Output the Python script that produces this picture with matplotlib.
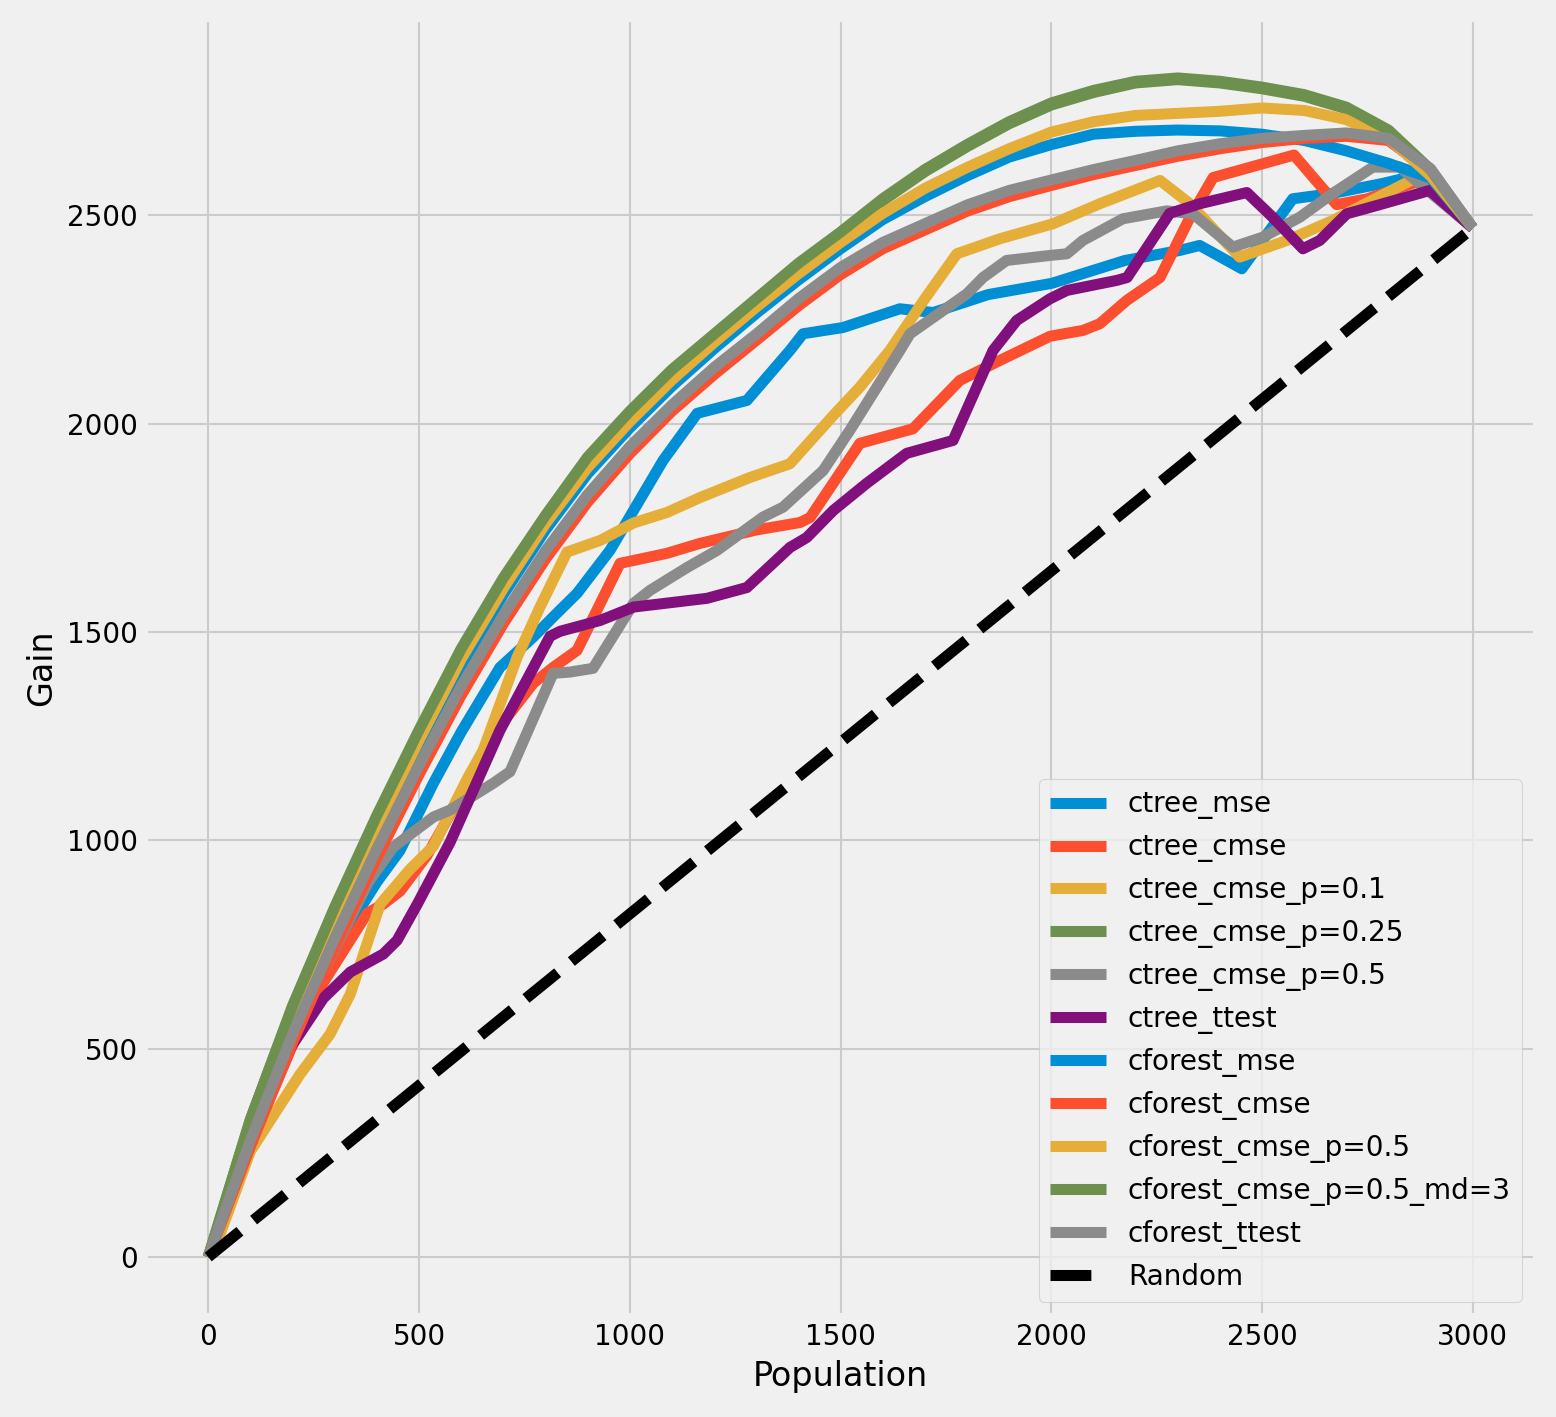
import matplotlib
matplotlib.use("Agg")
import matplotlib.pyplot as plt

plt.style.use("fivethirtyeight")
plt.rcParams['font.family'] = ['DejaVu Sans']
plt.rcParams['font.size'] = 13.4
plt.rcParams['axes.labelsize'] = 16.0

# ---------------- data ----------------
grid_x = [0, 100, 200, 300, 400, 500, 600, 700, 800, 900, 1000, 1100, 1200, 1300, 1400, 1500,
          1600, 1700, 1800, 1900, 2000, 2100, 2200, 2300, 2400, 2500, 2600, 2700, 2800, 2900, 3000]

# ctree models (step-like)
ctree_mse_x = [0, 100, 200, 300, 400, 455, 534, 600, 692, 771, 818, 875, 953, 1079, 1160, 1278, 1380,
               1411, 1506, 1641, 1720, 1850, 2001, 2175, 2305, 2352, 2452, 2573, 2668, 2787, 2866, 3000]
ctree_mse_y = [0, 280, 530, 740, 900, 976, 1137, 1260, 1415, 1488, 1536, 1593, 1696, 1912, 2025, 2056, 2176,
               2216, 2231, 2276, 2267, 2310, 2337, 2392, 2416, 2428, 2372, 2540, 2553, 2577, 2596, 2470]

ctree_cmse_x = [0, 100, 242, 377, 415, 455, 519, 600, 692, 771, 818, 875, 977, 1088, 1167, 1300, 1404, 1428,
                1546, 1672, 1783, 1878, 1997, 2075, 2115, 2179, 2258, 2329, 2384, 2576, 2677, 2750, 2880, 3000]
ctree_cmse_y = [0, 270, 609, 825, 847, 878, 964, 1110, 1274, 1377, 1415, 1456, 1665, 1689, 1713, 1745, 1763, 1775,
                1953, 1988, 2104, 2152, 2210, 2224, 2240, 2296, 2351, 2495, 2591, 2645, 2526, 2540, 2585, 2470]

ctree_cmse_p01_x = [0, 30, 100, 218, 289, 337, 408, 479, 534, 614, 652, 733, 787, 851, 930, 1009, 1088, 1167,
                    1285, 1380, 1483, 1546, 1617, 1700, 1776, 1878, 2004, 2115, 2258, 2329, 2447, 2559, 2668,
                    2867, 3000]
ctree_cmse_p01_y = [0, 60, 254, 439, 535, 631, 847, 931, 986, 1147, 1216, 1440, 1560, 1692, 1720, 1762, 1787, 1823,
                    1871, 1904, 2020, 2088, 2176, 2300, 2408, 2444, 2480, 2528, 2584, 2528, 2400, 2440, 2488,
                    2591, 2470]

ctree_cmse_p025_y = [0, 330, 600, 835, 1055, 1260, 1455, 1625, 1775, 1915, 2025, 2125, 2210, 2295, 2380, 2455,
                     2535, 2605, 2665, 2720, 2765, 2795, 2818, 2826, 2818, 2804, 2786, 2756, 2700, 2605, 2470]

ctree_cmse_p05_x = [0, 100, 200, 300, 380, 439, 534, 574, 676, 716, 818, 858, 913, 1009, 1048, 1136, 1207, 1316,
                    1364, 1459, 1522, 1641, 1665, 1800, 1838, 1894, 1997, 2037, 2075, 2170, 2274, 2336, 2431,
                    2502, 2590, 2668, 2763, 2827, 3000]
ctree_cmse_p05_y = [0, 290, 530, 740, 900, 984, 1056, 1073, 1137, 1165, 1401, 1404, 1413, 1569, 1600, 1655, 1696,
                    1776, 1800, 1888, 1984, 2176, 2216, 2312, 2351, 2392, 2404, 2408, 2440, 2492, 2511, 2504,
                    2424, 2448, 2496, 2553, 2616, 2616, 2470]

ctree_ttest_x = [0, 100, 194, 273, 337, 415, 448, 496, 574, 692, 811, 835, 930, 1009, 1183, 1278, 1380, 1420,
                 1483, 1562, 1657, 1767, 1862, 1918, 1997, 2037, 2155, 2180, 2281, 2352, 2464, 2526, 2597, 2637,
                 2701, 2748, 2811, 2898, 3000]
ctree_ttest_y = [0, 280, 501, 621, 684, 727, 760, 847, 996, 1264, 1490, 1502, 1528, 1560, 1581, 1607, 1703, 1727,
                 1792, 1857, 1929, 1960, 2176, 2248, 2300, 2320, 2344, 2351, 2505, 2528, 2555, 2495, 2420, 2440,
                 2504, 2517, 2535, 2560, 2470]

# cforest models (smooth)
cforest_mse_y = [0, 295, 560, 795, 1015, 1220, 1415, 1590, 1745, 1880, 1990, 2090, 2180, 2265, 2345, 2420,
                 2490, 2545, 2595, 2640, 2670, 2695, 2702, 2705, 2703, 2695, 2680, 2655, 2625, 2590, 2470]
cforest_cmse_y = [0, 265, 515, 745, 958, 1158, 1348, 1520, 1675, 1812, 1928, 2030, 2118, 2200, 2283, 2358,
                  2420, 2465, 2510, 2545, 2572, 2598, 2620, 2642, 2660, 2675, 2685, 2690, 2680, 2605, 2470]
cforest_cmse_p05_y = [0, 310, 580, 815, 1035, 1240, 1435, 1605, 1760, 1895, 2005, 2105, 2195, 2280, 2360, 2435,
                      2505, 2565, 2615, 2660, 2700, 2725, 2740, 2745, 2750, 2758, 2752, 2730, 2685, 2595, 2470]
cforest_md3_y = [0, 330, 603, 840, 1060, 1265, 1460, 1630, 1780, 1920, 2030, 2130, 2215, 2300, 2385, 2460,
                 2540, 2610, 2670, 2725, 2770, 2800, 2822, 2830, 2822, 2808, 2790, 2760, 2705, 2610, 2470]
cforest_ttest_y = [0, 280, 535, 765, 980, 1180, 1370, 1540, 1695, 1830, 1945, 2045, 2135, 2215, 2300, 2375,
                   2435, 2480, 2525, 2560, 2585, 2610, 2632, 2655, 2672, 2685, 2692, 2698, 2685, 2612, 2470]

random_x = [0, 3000]
random_y = [0, 2470]

series = [
    ("ctree_mse", ctree_mse_x, ctree_mse_y),
    ("ctree_cmse", ctree_cmse_x, ctree_cmse_y),
    ("ctree_cmse_p=0.1", ctree_cmse_p01_x, ctree_cmse_p01_y),
    ("ctree_cmse_p=0.25", grid_x, ctree_cmse_p025_y),
    ("ctree_cmse_p=0.5", ctree_cmse_p05_x, ctree_cmse_p05_y),
    ("ctree_ttest", ctree_ttest_x, ctree_ttest_y),
    ("cforest_mse", grid_x, cforest_mse_y),
    ("cforest_cmse", grid_x, cforest_cmse_y),
    ("cforest_cmse_p=0.5", grid_x, cforest_cmse_p05_y),
    ("cforest_cmse_p=0.5_md=3", grid_x, cforest_md3_y),
    ("cforest_ttest", grid_x, cforest_ttest_y),
]

# ---------------- plot ----------------
W, H, DPI = 1556, 1417, 150
fig = plt.figure(figsize=(W / DPI, H / DPI), dpi=DPI)
ax = fig.add_axes([145 / W, 1 - 1316 / H, (1536 - 145) / W, (1316 - 19) / H])

LW = 5.3
for name, xs, ys in series:
    ax.plot(xs, ys, lw=LW, label=name)
ax.plot(random_x, random_y, color="black", ls="--", lw=LW, label="Random")

ax.set_xlabel("Population")
ax.set_ylabel("Gain")
ax.legend(loc="lower right")

fig.savefig("out.png", dpi=DPI)
